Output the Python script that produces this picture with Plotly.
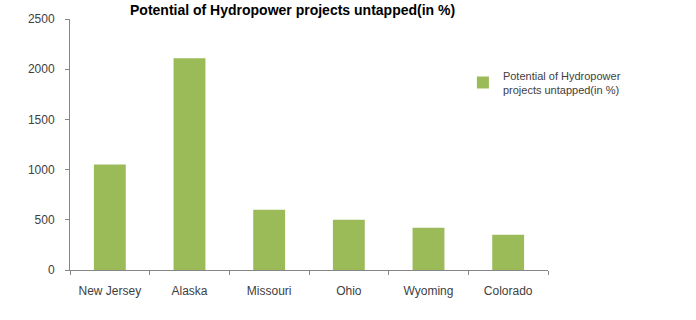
import plotly.graph_objects as go

states = ["New Jersey", "Alaska", "Missouri", "Ohio", "Wyoming", "Colorado"]
potential = [1050, 2110, 600, 500, 420, 350]
series_name = "Potential of Hydropower<br>projects untapped(in %)"
title_text = "Potential of Hydropower projects untapped(in %)"
y_ticks = [0, 500, 1000, 1500, 2000, 2500]

fig = go.Figure()
fig.add_trace(go.Bar(
    x=states, y=potential, name=series_name,
    marker=dict(color="#9BBB59", line=dict(width=0)),
    showlegend=True,
))

fig.update_layout(
    width=696, height=320,
    margin=dict(l=70, r=148, t=16, b=50),
    paper_bgcolor="white", plot_bgcolor="white",
    font=dict(family="Liberation Sans, Arial, sans-serif", size=11, color="#404040"),
    bargap=0.6,
    showlegend=True,
    legend=dict(
        x=0.822, y=0.83, xanchor="left", yanchor="top",
        font=dict(size=11, color="#404040"),
        itemwidth=30, tracegroupgap=0,
        bgcolor="rgba(0,0,0,0)",
    ),
    annotations=[dict(
        text="<b>" + title_text + "</b>",
        xref="paper", yref="paper",
        x=0.465, y=1.0 + 9 / 254, xanchor="center", yanchor="middle",
        showarrow=False, font=dict(size=14, color="#000000"),
    )],
)

fig.update_yaxes(
    range=[0, 2500], tickvals=y_ticks,
    showgrid=False, zeroline=False,
    showline=True, linecolor="#868686", linewidth=1,
    ticks="outside", ticklen=4, tickcolor="#868686",
    ticklabelstandoff=8,
    tickfont=dict(size=12, color="#404040"),
)
fig.update_xaxes(
    showgrid=False,
    showline=True, linecolor="#868686", linewidth=1,
    ticks="outside", ticklen=4, tickcolor="#868686",
    tickson="boundaries",
    ticklabelstandoff=10,
    tickfont=dict(size=12, color="#404040"),
)

fig.write_html("out.html")
